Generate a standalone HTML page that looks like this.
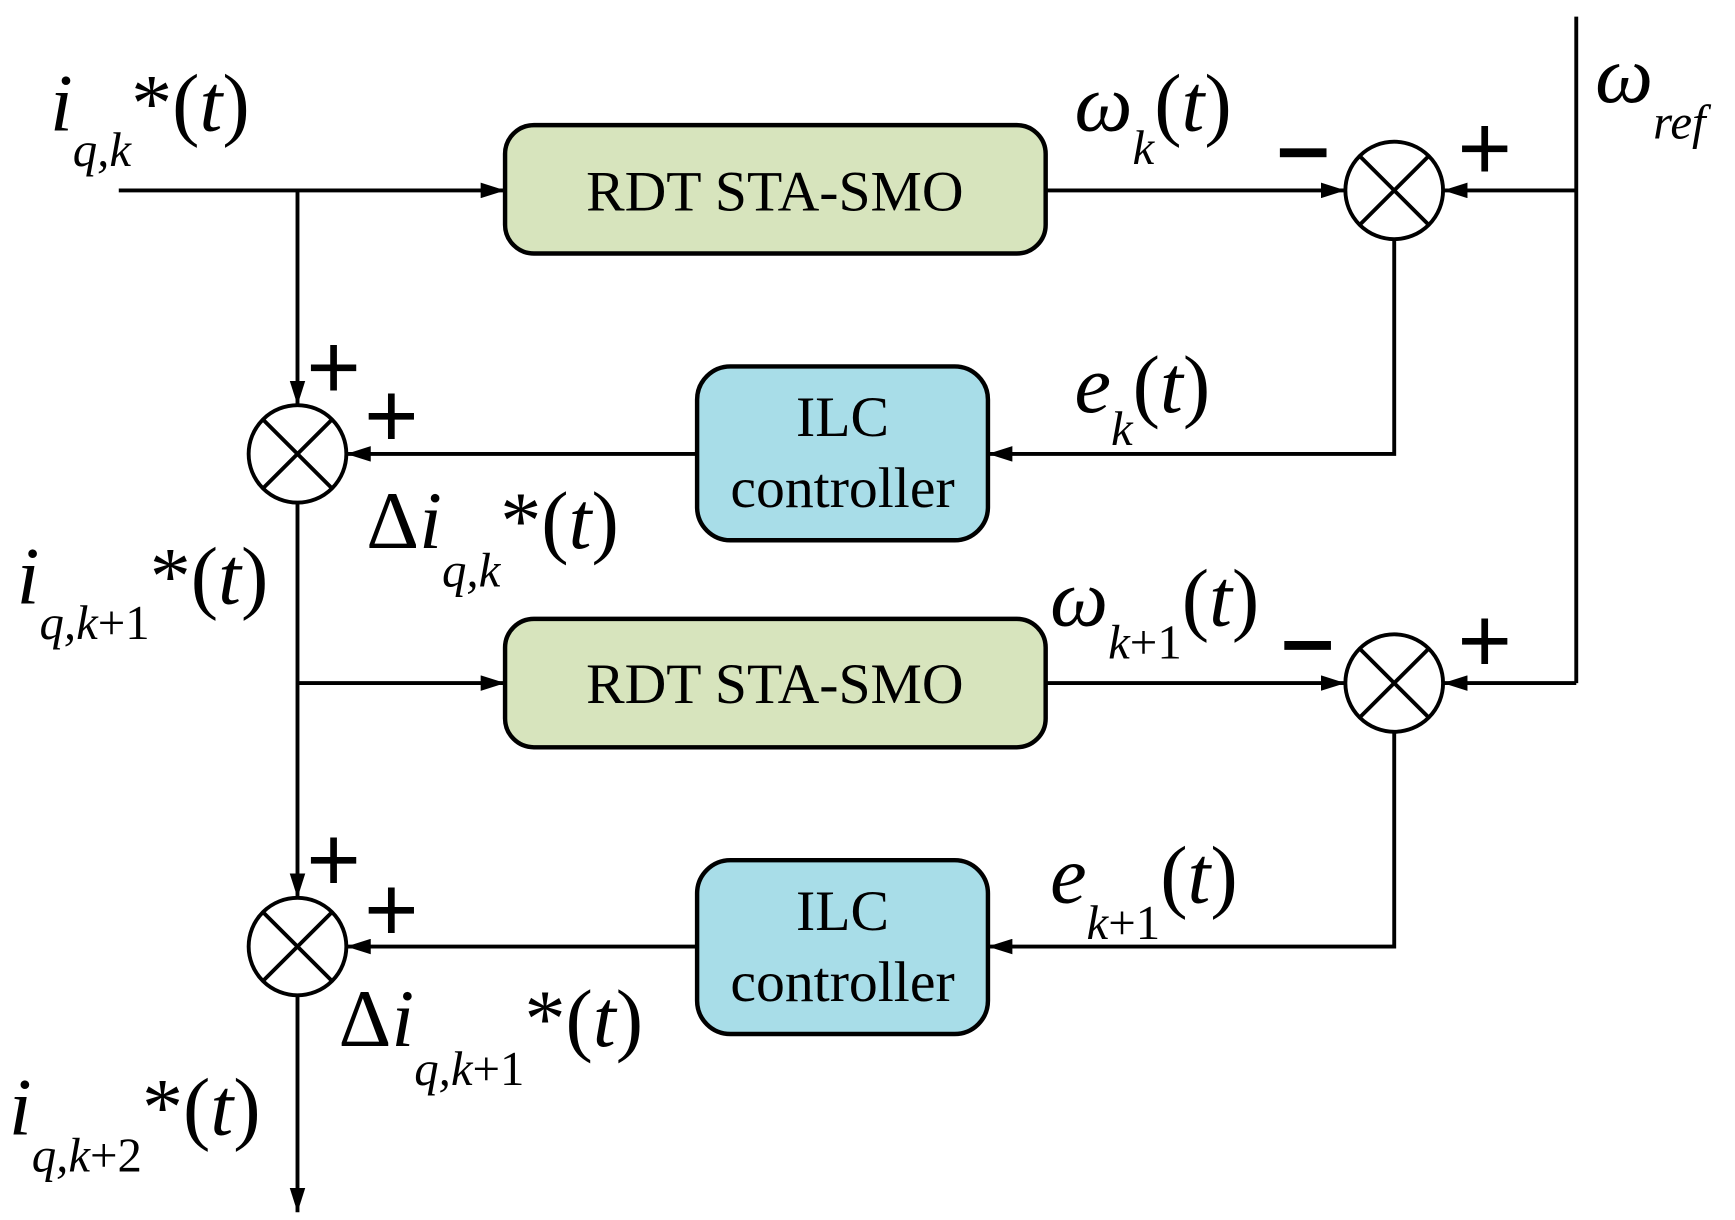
<!DOCTYPE html>
<html><head><meta charset="utf-8"><style>
html,body{margin:0;padding:0;background:#fff}
svg{display:block}
text{font-family:"Liberation Serif","DejaVu Serif",serif;fill:#000}
.it{font-style:italic}
.s{font-size:44px}
.p{font-family:"Liberation Sans",sans-serif;font-size:84px}
</style></head><body>
<svg width="1735" height="1220" viewBox="0 0 1563 1102" preserveAspectRatio="none" xmlns="http://www.w3.org/2000/svg">
<defs>
<marker id="b" markerWidth="22" markerHeight="14" refX="22" refY="7" orient="auto" markerUnits="userSpaceOnUse"><path d="M0,0 L22,7 L0,14 z" fill="#000"/></marker></defs>
<g stroke="#000" stroke-width="3.5" fill="none">
<line x1="107" y1="172" x2="455" y2="172" marker-end="url(#b)"/>
<line x1="268" y1="172" x2="268" y2="366" marker-end="url(#b)"/>
<line x1="942" y1="172" x2="1212" y2="172" marker-end="url(#b)"/>
<line x1="1420" y1="15" x2="1420" y2="617"/>
<line x1="1420" y1="172" x2="1300" y2="172" marker-end="url(#b)"/>
<line x1="1420" y1="617" x2="1300" y2="617" marker-end="url(#b)"/>
<polyline points="1256,216 1256,410 890,410" marker-end="url(#b)"/>
<line x1="628" y1="410" x2="312" y2="410" marker-end="url(#b)"/>
<line x1="268" y1="454" x2="268" y2="811" marker-end="url(#b)"/>
<line x1="268" y1="617" x2="455" y2="617" marker-end="url(#b)"/>
<line x1="942" y1="617" x2="1212" y2="617" marker-end="url(#b)"/>
<polyline points="1256,661 1256,855 890,855" marker-end="url(#b)"/>
<line x1="628" y1="855" x2="312" y2="855" marker-end="url(#b)"/>
<line x1="268" y1="899" x2="268" y2="1095" marker-end="url(#b)"/>
</g>
<g stroke="#000" stroke-width="4">
<rect x="455" y="113" width="487" height="116" rx="26" fill="#d7e4bd"/>
<rect x="455" y="559" width="487" height="116" rx="26" fill="#d7e4bd"/>
<rect x="628" y="331" width="262" height="157" rx="30" fill="#a8dde8"/>
<rect x="628" y="777" width="262" height="157" rx="30" fill="#a8dde8"/>
</g>
<g stroke="#000" stroke-width="3.5" fill="#fff">
<circle cx="1256" cy="172" r="44"/><path d="M1225,141 L1287,203 M1287,141 L1225,203"/>
<circle cx="1256" cy="617" r="44"/><path d="M1225,586 L1287,648 M1287,586 L1225,648"/>
<circle cx="268" cy="410" r="44"/><path d="M237,379 L299,441 M299,379 L237,441"/>
<circle cx="268" cy="855" r="44"/><path d="M237,824 L299,886 M299,824 L237,886"/>
</g>
<g font-size="52" text-anchor="middle">
<text x="698" y="190">RDT STA-SMO</text>
<text x="698" y="635">RDT STA-SMO</text>
<text x="759" y="394">ILC</text>
<text x="759" y="458">controller</text>
<text x="759" y="840">ILC</text>
<text x="759" y="904">controller</text>
</g>
<g font-size="74">
<text x="45" y="118"><tspan class="it">i</tspan><tspan class="it s" dy="32">q,k</tspan><tspan dy="-32">*(</tspan><tspan class="it">t</tspan>)</text>
<text x="968" y="118"><tspan class="it">ω</tspan><tspan class="it s" dy="30">k</tspan><tspan dy="-30">(</tspan><tspan class="it">t</tspan>)</text>
<text x="1437" y="92"><tspan class="it">ω</tspan><tspan class="it s" dy="33">ref</tspan></text>
<text x="968" y="372"><tspan class="it">e</tspan><tspan class="it s" dy="30">k</tspan><tspan dy="-30">(</tspan><tspan class="it">t</tspan>)</text>
<text x="330" y="495">Δ<tspan class="it">i</tspan><tspan class="it s" dy="35">q,k</tspan><tspan dy="-35">*(</tspan><tspan class="it">t</tspan>)</text>
<text x="15" y="545"><tspan class="it">i</tspan><tspan class="s" dy="32"><tspan class="it">q,k</tspan>+1</tspan><tspan dy="-32">*(</tspan><tspan class="it">t</tspan>)</text>
<text x="946" y="565"><tspan class="it">ω</tspan><tspan class="s" dy="30"><tspan class="it">k</tspan>+1</tspan><tspan dy="-30">(</tspan><tspan class="it">t</tspan>)</text>
<text x="946" y="815"><tspan class="it">e</tspan><tspan class="s" dy="33"><tspan class="it">k</tspan>+1</tspan><tspan dy="-33">(</tspan><tspan class="it">t</tspan>)</text>
<text x="305" y="945">Δ<tspan class="it">i</tspan><tspan class="s" dy="35"><tspan class="it">q,k</tspan>+1</tspan><tspan dy="-35">*(</tspan><tspan class="it">t</tspan>)</text>
<text x="8" y="1025"><tspan class="it">i</tspan><tspan class="s" dy="33"><tspan class="it">q,k</tspan>+2</tspan><tspan dy="-33">*(</tspan><tspan class="it">t</tspan>)</text>
</g>
<g fill="#000">
<rect x="1153" y="134" width="42" height="8"/>
<rect x="1157" y="579" width="42" height="8"/>
</g>
<g>
<text class="p" x="1313" y="162">+</text>
<text class="p" x="1313" y="607">+</text>
<text class="p" x="276" y="360">+</text>
<text class="p" x="328" y="404">+</text>
<text class="p" x="276" y="805">+</text>
<text class="p" x="328" y="850">+</text>
</g>
</svg>
</body></html>
